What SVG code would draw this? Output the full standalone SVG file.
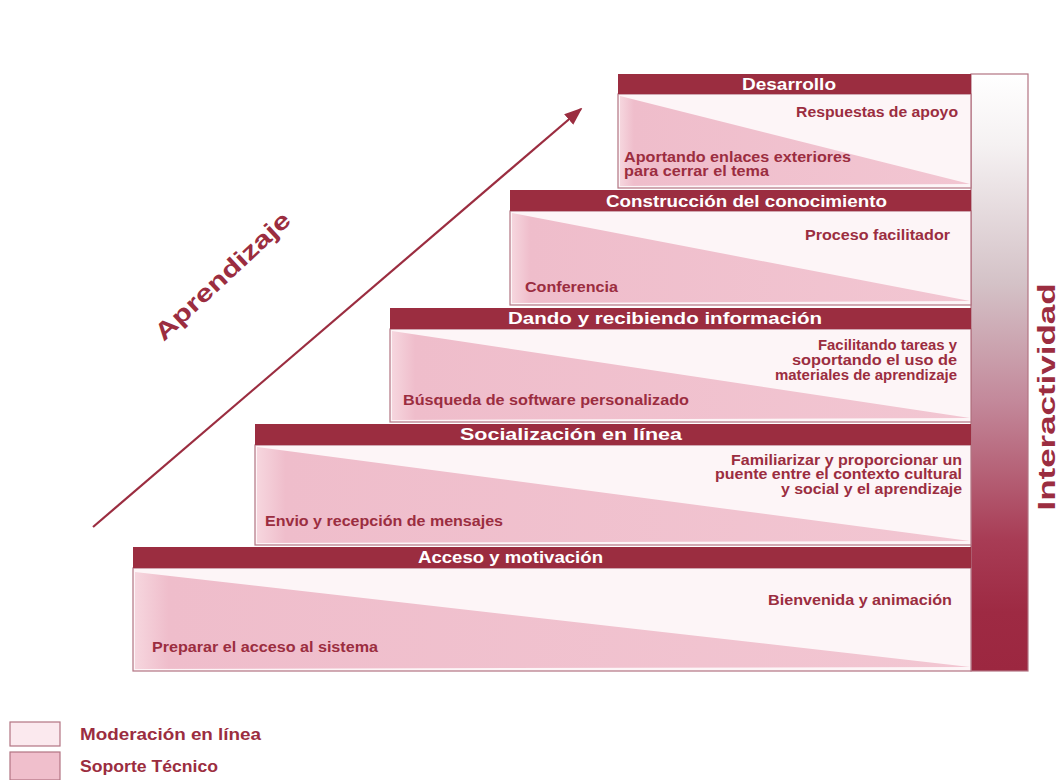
<svg xmlns="http://www.w3.org/2000/svg" width="1059" height="780" viewBox="0 0 1059 780">
<defs>
<linearGradient id="pinkTri" x1="0" y1="0" x2="1" y2="0">
<stop offset="0" stop-color="#f6d6de"/>
<stop offset="0.04" stop-color="#efbdcb"/>
<stop offset="1" stop-color="#f2c6d2"/>
</linearGradient>
<linearGradient id="inter" x1="0" y1="0" x2="0" y2="1">
<stop offset="0" stop-color="#ffffff"/>
<stop offset="0.12" stop-color="#f5f1f2"/>
<stop offset="0.35" stop-color="#d4c2c7"/>
<stop offset="0.55" stop-color="#c3889a"/>
<stop offset="0.78" stop-color="#a83c55"/>
<stop offset="0.9" stop-color="#9e2a43"/>
<stop offset="1" stop-color="#9c2740"/>
</linearGradient>
<marker id="arrow" viewBox="0 0 10 10" refX="9" refY="5" markerWidth="18" markerHeight="14" orient="auto" markerUnits="userSpaceOnUse" preserveAspectRatio="none">
<path d="M0,0 L10,5 L0,10 z" fill="#9b2d40"/>
</marker>
<style>
.hdr{fill:#9b2d40;}
.body{fill:#fdf5f7;stroke:#b27482;stroke-width:1.2;}
.tri{fill:url(#pinkTri);}
.ht{font-family:"Liberation Sans",Arial,sans-serif;font-weight:bold;font-size:17px;fill:#ffffff;}
.bt{font-family:"Liberation Sans",Arial,sans-serif;font-weight:bold;font-size:14.5px;fill:#9b2d40;}
.lt{font-family:"Liberation Sans",Arial,sans-serif;font-weight:bold;font-size:16px;fill:#9b2d40;}
</style>
</defs>
<rect width="1059" height="780" fill="#ffffff"/>

<g id="interactividad">
<rect x="971" y="74" width="57" height="597" fill="url(#inter)" stroke="#b27482" stroke-width="1.2"/>
<text transform="translate(1055,397) rotate(-90)" text-anchor="middle" font-family="Liberation Sans, Arial, sans-serif" font-weight="bold" font-size="24" fill="#9b2d40" textLength="227" lengthAdjust="spacingAndGlyphs">Interactividad</text>
</g>

<g id="step-desarrollo">
<rect class="body" x="618" y="94" width="353" height="94"/>
<polygon class="tri" points="620,96 970,184 620,186"/>
<rect class="hdr" x="618" y="74" width="353" height="20"/>
<text class="ht" x="742" y="90" textLength="94" lengthAdjust="spacingAndGlyphs">Desarrollo</text>
<text class="bt" x="958" y="117" text-anchor="end" textLength="162" lengthAdjust="spacingAndGlyphs">Respuestas de apoyo</text>
<text class="bt" x="624" y="162" textLength="227" lengthAdjust="spacingAndGlyphs">Aportando enlaces exteriores</text>
<text class="bt" x="624" y="176" textLength="145" lengthAdjust="spacingAndGlyphs">para cerrar el tema</text>
</g>

<g id="step-construccion">
<rect class="body" x="510" y="211" width="461" height="94"/>
<polygon class="tri" points="512,213 970,301 512,303"/>
<rect class="hdr" x="510" y="190" width="461" height="21"/>
<text class="ht" x="606" y="207" textLength="281" lengthAdjust="spacingAndGlyphs">Construcción del conocimiento</text>
<text class="bt" x="950" y="240" text-anchor="end" textLength="145" lengthAdjust="spacingAndGlyphs">Proceso facilitador</text>
<text class="bt" x="525" y="292" textLength="93" lengthAdjust="spacingAndGlyphs">Conferencia</text>
</g>

<g id="step-dando">
<rect class="body" x="390" y="329" width="581" height="93"/>
<polygon class="tri" points="392,331 970,418 392,420"/>
<rect class="hdr" x="390" y="308" width="581" height="21"/>
<text class="ht" x="508" y="324" textLength="314" lengthAdjust="spacingAndGlyphs">Dando y recibiendo información</text>
<text class="bt" x="957" y="350" text-anchor="end" textLength="139" lengthAdjust="spacingAndGlyphs">Facilitando tareas y</text>
<text class="bt" x="957" y="365" text-anchor="end" textLength="165" lengthAdjust="spacingAndGlyphs">soportando el uso de</text>
<text class="bt" x="957" y="380" text-anchor="end" textLength="182" lengthAdjust="spacingAndGlyphs">materiales de aprendizaje</text>
<text class="bt" x="403" y="405" textLength="286" lengthAdjust="spacingAndGlyphs">Búsqueda de software personalizado</text>
</g>

<g id="step-socializacion">
<rect class="body" x="255" y="445" width="716" height="100"/>
<polygon class="tri" points="257,447 970,541 257,543"/>
<rect class="hdr" x="255" y="424" width="716" height="21"/>
<text class="ht" x="460" y="440" textLength="222" lengthAdjust="spacingAndGlyphs">Socialización en línea</text>
<text class="bt" x="962" y="465" text-anchor="end" textLength="231" lengthAdjust="spacingAndGlyphs">Familiarizar y proporcionar un</text>
<text class="bt" x="962" y="479" text-anchor="end" textLength="247" lengthAdjust="spacingAndGlyphs">puente entre el contexto cultural</text>
<text class="bt" x="962" y="494" text-anchor="end" textLength="181" lengthAdjust="spacingAndGlyphs">y social y el aprendizaje</text>
<text class="bt" x="265" y="526" textLength="238" lengthAdjust="spacingAndGlyphs">Envio y recepción de mensajes</text>
</g>

<g id="step-acceso">
<rect class="body" x="133" y="568" width="838" height="103"/>
<polygon class="tri" points="135,572 970,667 135,669"/>
<rect class="hdr" x="133" y="547" width="838" height="21"/>
<text class="ht" x="418" y="563" textLength="185" lengthAdjust="spacingAndGlyphs">Acceso y motivación</text>
<text class="bt" x="952" y="605" text-anchor="end" textLength="184" lengthAdjust="spacingAndGlyphs">Bienvenida y animación</text>
<text class="bt" x="152" y="652" textLength="226" lengthAdjust="spacingAndGlyphs">Preparar el acceso al sistema</text>
</g>

<g id="connectors">
<line x1="93" y1="527" x2="581" y2="109" stroke="#9b2d40" stroke-width="2.2" marker-end="url(#arrow)"/>
</g>

<g id="aprendizaje">
<text transform="translate(228,282) rotate(-43)" text-anchor="middle" font-family="Liberation Sans, Arial, sans-serif" font-weight="bold" font-size="24" fill="#9b2d40" textLength="176" lengthAdjust="spacingAndGlyphs">Aprendizaje</text>
</g>

<g id="legend">
<rect x="10" y="722" width="50" height="24" fill="#fbe9ee" stroke="#b27482" stroke-width="1.2"/>
<text class="lt" x="80" y="740" textLength="181" lengthAdjust="spacingAndGlyphs">Moderación en línea</text>
<rect x="10" y="752" width="50" height="28" fill="#f0bfcc" stroke="#b27482" stroke-width="1.2"/>
<text class="lt" x="80" y="772" textLength="138" lengthAdjust="spacingAndGlyphs">Soporte Técnico</text>
</g>
</svg>
